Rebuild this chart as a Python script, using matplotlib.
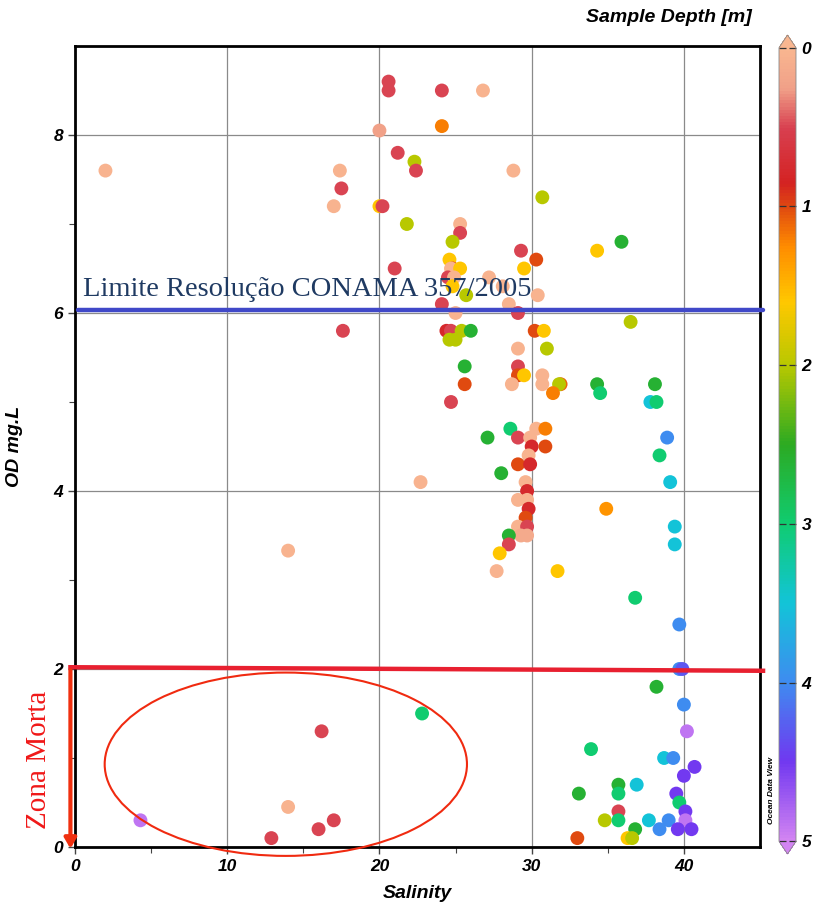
import matplotlib
matplotlib.use("Agg")
import matplotlib.pyplot as plt
import numpy as np
from matplotlib.colors import LinearSegmentedColormap, Normalize
from matplotlib.patches import Ellipse
from matplotlib.cm import ScalarMappable

# ---------------- data ----------------
salinity = [
    2.0, 20.6, 20.6, 24.1, 26.8, 20.0, 24.1, 21.2, 22.3, 22.4,
    28.8, 17.4, 17.5, 17.0, 20.0, 20.2, 30.7, 21.8, 25.3, 25.3,
    24.8, 29.3, 34.3, 35.9, 21.0, 30.3, 24.6, 24.8, 24.7, 25.3,
    29.5, 24.5, 24.9, 27.2, 24.8, 25.7, 28.1, 28.5, 30.4, 24.1,
    25.0, 29.1, 17.6, 24.4, 24.7, 25.4, 26.0, 24.6, 25.0, 30.2,
    30.8, 29.1, 31.0, 36.5, 25.6, 29.1, 29.1, 29.5, 30.7, 25.6,
    28.7, 30.7, 31.9, 31.8, 31.4, 34.3, 34.5, 38.1, 37.8, 38.2,
    24.7, 28.6, 30.3, 30.9, 27.1, 29.1, 29.9, 38.9, 30.0, 30.9,
    38.4, 29.8, 29.1, 29.9, 28.0, 29.6, 22.7, 39.1, 29.7, 29.1,
    29.7, 29.8, 34.9, 29.6, 29.1, 29.7, 39.4, 29.3, 29.7, 28.5,
    28.5, 39.4, 14.0, 27.9, 27.7, 31.7, 36.8, 39.7, 39.7, 39.9,
    38.2, 40.0, 40.2, 22.8, 16.2, 33.9, 38.7, 39.3, 40.7, 40.0,
    35.7, 36.9, 33.1, 35.7, 39.5, 39.7, 35.7, 40.1, 34.8, 35.7,
    37.7, 39.0, 40.1, 36.8, 38.4, 39.6, 40.5, 33.0, 36.3, 36.6,
    4.3, 14.0, 17.0, 16.0, 12.9,
]
od = [
    7.6, 8.6, 8.5, 8.5, 8.5, 8.05, 8.1, 7.8, 7.7, 7.6,
    7.6, 7.6, 7.4, 7.2, 7.2, 7.2, 7.3, 7.0, 7.0, 6.9,
    6.8, 6.7, 6.7, 6.8, 6.5, 6.6, 6.6, 6.5, 6.5, 6.5,
    6.5, 6.4, 6.4, 6.4, 6.3, 6.2, 6.3, 6.1, 6.2, 6.1,
    6.0, 6.0, 5.8, 5.8, 5.8, 5.8, 5.8, 5.7, 5.7, 5.8,
    5.8, 5.6, 5.6, 5.9, 5.4, 5.4, 5.3, 5.3, 5.3, 5.2,
    5.2, 5.2, 5.2, 5.2, 5.1, 5.2, 5.1, 5.2, 5.0, 5.0,
    5.0, 4.7, 4.7, 4.7, 4.6, 4.6, 4.6, 4.6, 4.5, 4.5,
    4.4, 4.4, 4.3, 4.3, 4.2, 4.1, 4.1, 4.1, 4.0, 3.9,
    3.9, 3.8, 3.8, 3.7, 3.6, 3.6, 3.6, 3.5, 3.5, 3.5,
    3.4, 3.4, 3.33, 3.3, 3.1, 3.1, 2.8, 2.5, 2.0, 2.0,
    1.8, 1.6, 1.3, 1.5, 1.3, 1.1, 1.0, 1.0, 0.9, 0.8,
    0.7, 0.7, 0.6, 0.6, 0.6, 0.5, 0.4, 0.4, 0.3, 0.3,
    0.3, 0.3, 0.3, 0.2, 0.2, 0.2, 0.2, 0.1, 0.1, 0.1,
    0.3, 0.45, 0.3, 0.2, 0.1,
]
depth = [
    0.05, 0.5, 0.5, 0.5, 0.05, 0.25, 1.2, 0.5, 2.0, 0.5,
    0.05, 0.05, 0.5, 0.05, 1.6, 0.5, 2.0, 2.0, 0.05, 0.5,
    2.0, 0.5, 1.6, 2.6, 0.5, 1.0, 1.6, 1.0, 0.05, 1.6,
    1.6, 0.5, 0.05, 0.05, 1.6, 2.0, 0.05, 0.05, 0.05, 0.5,
    0.05, 0.5, 0.5, 0.8, 0.5, 2.0, 2.6, 2.0, 2.0, 1.0,
    1.6, 0.05, 2.0, 2.0, 2.6, 0.5, 1.0, 1.6, 0.05, 1.0,
    0.05, 0.05, 1.1, 2.0, 1.2, 2.6, 3.0, 2.6, 3.5, 3.0,
    0.5, 3.0, 0.05, 1.2, 2.6, 0.5, 0.05, 4.0, 0.8, 1.0,
    3.0, 0.05, 1.0, 0.8, 2.6, 0.05, 0.05, 3.5, 0.8, 0.05,
    0.05, 0.8, 1.3, 1.0, 0.05, 0.5, 3.5, 0.15, 0.15, 2.6,
    0.5, 3.5, 0.05, 1.6, 0.05, 1.6, 3.0, 4.0, 4.0, 4.3,
    2.6, 4.0, 4.9, 3.0, 0.5, 3.0, 3.5, 4.0, 4.5, 4.5,
    2.6, 3.5, 2.6, 3.0, 4.5, 3.0, 0.5, 4.5, 2.0, 3.0,
    3.5, 4.0, 4.9, 2.6, 4.0, 4.5, 4.5, 1.0, 1.6, 2.0,
    4.9, 0.05, 0.5, 0.5, 0.5,
]

x_ticks = [0, 10, 20, 30, 40]
y_ticks = [0, 2, 4, 6, 8]
cbar_ticks = [0, 1, 2, 3, 4, 5]
conama_limit = 6.03
dead_zone_limit = (2.02, 1.98)

# ---------------- style ----------------
font = "Liberation Sans"
serif = "Liberation Serif"

cmap_nodes = [
    (0.00, "#F9B690"), (0.05, "#F0A088"), (0.10, "#D84050"),
    (0.17, "#D42222"), (0.20, "#E04A10"), (0.25, "#FF8C00"),
    (0.32, "#FFC800"), (0.40, "#B8C800"), (0.50, "#2CAA22"),
    (0.60, "#10CC70"), (0.70, "#12C4D8"), (0.80, "#3E8CF0"),
    (0.90, "#7038F0"), (1.00, "#D284F2"),
]
cmap = LinearSegmentedColormap.from_list("odv", cmap_nodes)
norm = Normalize(0, 5)

fig = plt.figure(figsize=(8.13, 9.09), dpi=100)
ax = fig.add_axes([75 / 813, 62 / 909, 685 / 813, 801 / 909])

ax.set_xlim(0, 45)
ax.set_ylim(0, 9)
ax.grid(True, color="#8a8a8a", lw=0.9, zorder=0)
ax.set_axisbelow(True)

ax.scatter(salinity, od, c=depth, cmap=cmap, norm=norm, s=100,
           edgecolors="none", zorder=3)

ax.set_xticks(x_ticks)
ax.set_yticks(y_ticks)
ax.set_xticks(np.arange(5, 45, 10), minor=True)
ax.set_yticks(np.arange(1, 9, 2), minor=True)
ax.tick_params(which="both", direction="out", color="#444444")
ax.tick_params(which="major", length=5, width=1)
ax.tick_params(which="minor", length=4, width=0.8)
for lab in ax.get_xticklabels() + ax.get_yticklabels():
    lab.set_fontfamily(font)
    lab.set_fontweight("bold")
    lab.set_fontstyle("italic")
    lab.set_fontsize(12.5)
for sp in ax.spines.values():
    sp.set_linewidth(2)
    sp.set_color("black")

ax.set_xlabel("Salinity", fontfamily=font, fontweight="bold",
              fontstyle="italic", fontsize=14, labelpad=8)
ax.set_ylabel("OD mg.L", fontfamily=font, fontweight="bold",
              fontstyle="italic", fontsize=14, labelpad=22)

# CONAMA limit
ax.plot([0.2, 45.2], [conama_limit, conama_limit], color="#4048C8",
        lw=3.2, solid_capstyle="round", clip_on=False, zorder=4)
ax.text(0.5, conama_limit + 0.09, "Limite Resolução CONAMA 357/2005",
        fontfamily=serif, fontsize=20.5, color="#1F3A62",
        ha="left", va="bottom", zorder=5)

# dead zone
ax.plot([-0.3, 45.2], list(dead_zone_limit), color="#E82030", lw=3.2,
        clip_on=False, zorder=4)
ax.annotate("", xy=(-0.3, -0.05), xytext=(-0.3, 2.02),
            arrowprops=dict(arrowstyle="-|>,head_length=0.6,head_width=0.35",
                            color="#F03010", lw=3),
            annotation_clip=False, zorder=5)
ax.text(-2.35, 0.98, "Zona Morta", rotation=90, fontfamily=serif,
        fontsize=21, color="#F01818", ha="center", va="center")
ax.add_patch(Ellipse((13.85, 0.93), 23.8, 2.06, fill=False,
                     edgecolor="#F02A10", lw=1.5, clip_on=False, zorder=4))

# colorbar (extension triangles are drawn inside the axes box)
cax = fig.add_axes([779 / 813, 55 / 909, 17 / 813, 819 / 909])
sm = ScalarMappable(norm=norm, cmap=cmap)
cb = fig.colorbar(sm, cax=cax, extend="both", extendfrac=0.016,
                  ticks=cbar_ticks)
cb.ax.invert_yaxis()
cb.outline.set_edgecolor("#888888")
cb.outline.set_linewidth(0.6)
cb.ax.tick_params(direction="in", length=5, width=0.9, color="#333333",
                  left=True, right=True, pad=4)
for lab in cb.ax.get_yticklabels():
    lab.set_fontfamily(font)
    lab.set_fontweight("bold")
    lab.set_fontstyle("italic")
    lab.set_fontsize(12.5)

fig.text(752 / 813, 1 - 18 / 909, "Sample Depth [m]", fontfamily=font,
         fontweight="bold", fontstyle="italic", fontsize=14,
         ha="right", va="center")
fig.text(771 / 813, 1 - 790 / 909, "Ocean Data View", fontfamily=font,
         fontweight="bold", fontstyle="italic", fontsize=6, rotation=90,
         ha="center", va="center")

fig.savefig("out.png", dpi=100)
